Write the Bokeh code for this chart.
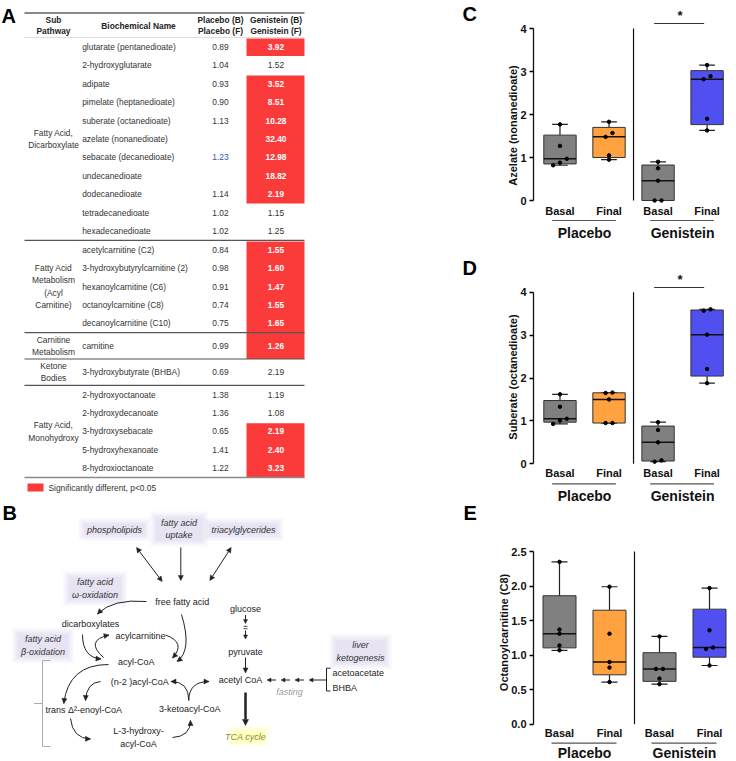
import math
from bokeh.plotting import figure
from bokeh.models import Range1d, Arrow, NormalHead, FixedTicker, NumeralTickFormatter
from bokeh.layouts import row, column
from bokeh.core.properties import value
from bokeh.embed import file_html
from bokeh.resources import INLINE

# ---------------- data: panel A table ----------------
sub_pathways = ["Fatty Acid,\nDicarboxylate", "Fatty Acid\nMetabolism\n(Acyl\nCarnitine)",
                "Carnitine\nMetabolism", "Ketone\nBodies", "Fatty Acid,\nMonohydroxy"]
section_sizes = [11, 5, 1, 1, 5]
biochemicals = ["glutarate (pentanedioate)", "2-hydroxyglutarate", "adipate", "pimelate (heptanedioate)",
                "suberate (octanedioate)", "azelate (nonanedioate)", "sebacate (decanedioate)",
                "undecanedioate", "dodecanedioate", "tetradecanedioate", "hexadecanedioate",
                "acetylcarnitine (C2)", "3-hydroxybutyrylcarnitine (2)", "hexanoylcarnitine (C6)",
                "octanoylcarnitine (C8)", "decanoylcarnitine (C10)", "carnitine",
                "3-hydroxybutyrate (BHBA)", "2-hydroxyoctanoate", "2-hydroxydecanoate",
                "3-hydroxysebacate", "5-hydroxyhexanoate", "8-hydroxioctanoate"]
placebo_ratio = [0.89, 1.04, 0.93, 0.90, 1.13, None, 1.23, None, 1.14, 1.02, 1.02,
                 0.84, 0.98, 0.91, 0.74, 0.75, 0.99, 0.69, 1.38, 1.36, 0.65, 1.41, 1.22]
genistein_ratio = [3.92, 1.52, 3.52, 8.51, 10.28, 32.40, 12.98, 18.82, 2.19, 1.15, 1.25,
                   1.55, 1.60, 1.47, 1.55, 1.65, 1.26, 2.19, 1.19, 1.08, 2.19, 2.40, 3.23]
significant = [1, 0, 1, 1, 1, 1, 1, 1, 1, 0, 0, 1, 1, 1, 1, 1, 1, 0, 0, 0, 1, 1, 1]
legend_text = "Significantly different, p<0.05"

# ---------------- data: panels C, D, E ----------------
conditions = ["Basal", "Final", "Basal", "Final"]
treatments = ["Placebo", "Genistein"]
azelate = [[1.77, 1.27, 0.97, 0.88, 0.82], [1.83, 1.57, 1.48, 1.05, 0.95],
           [0.90, 0.75, 0.46, 0.0, 0.0], [3.15, 2.89, 2.82, 1.90, 1.63]]
suberate = [[1.62, 1.33, 1.05, 1.01, 0.93], [1.66, 1.65, 1.50, 0.95, 0.95],
            [0.97, 0.79, 0.50, 0.08, 0.05], [3.60, 3.57, 3.01, 2.21, 1.88]]
octanoylcarnitine = [[2.35, 1.37, 1.31, 1.14, 1.07], [1.99, 1.31, 0.90, 0.82, 0.61],
                     [1.27, 0.80, 0.80, 0.66, 0.58], [1.97, 1.36, 1.11, 1.09, 0.85]]

SANS = "Liberation Sans"
RED = "#fb3a3a"
TFS = "8.4px"   # table font size

# ================= left figure (A + B) =================
L = figure(width=480, height=761, x_range=Range1d(0, 480), y_range=Range1d(761, 0),
           output_backend="svg", toolbar_location=None, min_border=0,
           x_axis_location=None, y_axis_location=None)
L.outline_line_color = None
L.grid.grid_line_color = None


def txt(x, y, t, size="9px", color="#222", style="normal", align="center", lh=1.2):
    L.text(x=[x], y=[y], text=[t], text_font=value(SANS), text_font_size=size,
           text_font_style=style, text_color=color, text_align=align,
           text_baseline="middle", text_line_height=lh)


# panel letters
for lab, lx, ly in [("A", 1, 15), ("B", 2, 512), ("C", 462, 13), ("D", 462, 267), ("E", 463, 512)]:
    txt(lx, ly, lab, size="20px", color="#000", style="bold", align="left")

# table geometry
TX0, TX1 = 24, 304
RX0, RX1 = 246, 304
head_bottom, row_h, min_sec = 37.0, 18.45, 26.3
row_top, row_bot, row_y, sec_bounds = [], [], [], []
y = head_bottom
for n in section_sizes:
    h = max(n * row_h, min_sec)
    for i in range(n):
        t, b = (y, y + h) if n == 1 else (y + i * row_h, y + (i + 1) * row_h)
        row_top.append(t); row_bot.append(b); row_y.append((t + b) / 2)
    sec_bounds.append((y, y + h))
    y += h

# red blocks (merge consecutive significant rows)
blocks = []
for i, s in enumerate(significant):
    if s:
        if blocks and blocks[-1][1] == i - 1:
            blocks[-1][1] = i
        else:
            blocks.append([i, i])
L.quad(left=[RX0] * len(blocks), right=[RX1] * len(blocks),
       top=[row_top[a] + 1 for a, b in blocks], bottom=[row_bot[b] for a, b in blocks],
       fill_color=RED, line_color=None)

# rules
L.segment(x0=[TX0], x1=[TX1], y0=[12.5], y1=[12.5], line_color="#8a8a8a", line_width=2)
L.segment(x0=[TX0], x1=[TX1], y0=[head_bottom], y1=[head_bottom], line_color="#d5d5d5", line_width=0.8)
for (a, b) in sec_bounds[:-1]:
    L.segment(x0=[TX0], x1=[TX1], y0=[b], y1=[b], line_color="#555555", line_width=1.2)
L.segment(x0=[TX0], x1=[TX1], y0=[sec_bounds[-1][1]], y1=[sec_bounds[-1][1]],
          line_color="#8a8a8a", line_width=1.5)

# header
for hx, ht in [(53, "Sub\nPathway"), (138, "Biochemical Name"), (220, "Placebo (B)\nPlacebo (F)"),
               (275.5, "Genistein (B)\nGenistein (F)")]:
    txt(hx, 25, ht, size=TFS, color="#222", style="bold", lh=1.05)

# sub pathway labels
for lab, (a, b) in zip(sub_pathways, sec_bounds):
    txt(53, (a + b) / 2, lab, size=TFS, color="#333", lh=1.25)

# rows
L.text(x=[81.7] * len(biochemicals), y=row_y, text=biochemicals, text_font=value(SANS),
       text_font_size=TFS, text_color="#333", text_align="left", text_baseline="middle")
p_txt = ["" if v is None else f"{v:.2f}" for v in placebo_ratio]
p_col = ["#2f55b5" if nm.startswith("sebacate") else "#333" for nm in biochemicals]
L.text(x=[220] * len(p_txt), y=row_y, text=p_txt, text_font=value(SANS), text_font_size=TFS,
       text_color=p_col, text_align="center", text_baseline="middle")
g_txt = [f"{v:.2f}" for v in genistein_ratio]
L.text(x=[275.5] * len(g_txt), y=row_y, text=g_txt, text_font=value(SANS), text_font_size=TFS,
       text_color="#ffffff", text_font_style="bold", text_align="center", text_baseline="middle",
       text_alpha=[1.0 if s else 0.0 for s in significant])
L.text(x=[275.5] * len(g_txt), y=row_y, text=g_txt, text_font=value(SANS), text_font_size=TFS,
       text_color="#333", text_font_style="normal", text_align="center", text_baseline="middle",
       text_alpha=[0.0 if s else 1.0 for s in significant])

# legend
L.quad(left=[27], right=[43], top=[483], bottom=[491], fill_color=RED, line_color=None)
txt(48, 487, legend_text, size=TFS, color="#333", align="left")

# ================= panel B diagram =================
INK = "#222"


def glow(x, y, w, h, color="#bdb4e2"):
    for k, a in [(6, 0.09), (4, 0.09), (2, 0.1), (0, 0.12)]:
        L.quad(left=[x - w / 2 - k], right=[x + w / 2 + k], top=[y - h / 2 - k], bottom=[y + h / 2 + k],
               fill_color=color, fill_alpha=a, line_color=None)


def arrow(x0, y0, x1, y1, lw=1.0, both=False, color=INK, size=5):
    kw = dict(end=NormalHead(size=size, fill_color=color, line_color=color, line_width=0.5))
    if both:
        kw["start"] = NormalHead(size=size, fill_color=color, line_color=color, line_width=0.5)
    else:
        kw["start"] = None
    L.add_layout(Arrow(x_start=x0, y_start=y0, x_end=x1, y_end=y1, line_width=lw,
                       line_color=color, **kw))


def carrow(x0, y0, cx, cy, x1, y1, color=INK):
    L.quadratic(x0=[x0], y0=[y0], x1=[x1], y1=[y1], cx=[cx], cy=[cy], line_color=color, line_width=1)
    dx, dy = x1 - cx, y1 - cy
    n = math.hypot(dx, dy)
    arrow(x1 - dx / n * 2, y1 - dy / n * 2, x1, y1, color=color)


glow_labels = [("phospholipids", 114, 529, 60, 11), ("fatty acid\nuptake", 178.5, 528.5, 46, 23),
               ("triacylglycerides", 243, 529, 68, 11), ("fatty acid\nω-oxidation", 94.5, 588, 52, 23),
               ("fatty acid\nβ-oxidation", 42.5, 645, 50, 23), ("liver\nketogenesis", 360, 651, 50, 23)]
for t, x, y, w, h in glow_labels:
    glow(x, y, w, h)
glow(248, 736, 30, 8, color="#ffff30")
for t, x, y, w, h in glow_labels:
    txt(x, y, t, size="9px", color="#333", style="italic", lh=1.25)

plain = [("free fatty acid", 181.7, 601), ("glucose", 245, 608), ("dicarboxylates", 90, 623.3),
         ("acylcarnitine", 140, 635), ("pyruvate", 245, 651), ("acyl-CoA", 135.7, 661),
         ("(n-2 )acyl-CoA", 139.3, 681), ("acetyl CoA", 240, 679.5),
         ("trans \u0394\u00b2-enoyl-CoA", 83.3, 709.3), ("3-ketoacyl-CoA", 189.3, 708.7),
         ("L-3-hydroxy-\nacyl-CoA", 138, 737)]
for t, x, y in plain:
    txt(x, y, t, size="9px", color=INK, lh=1.25)
txt(332, 672.3, "acetoacetate", size="9px", color=INK, align="left")
txt(332, 687, "BHBA", size="9px", color=INK, align="left")
txt(289, 691.5, "fasting", size="9px", color="#9a9a9a", style="italic")
txt(245, 736, "TCA cycle", size="9px", color="#8a8a5a", style="italic")

# straight arrows
arrow(136, 547, 161.7, 581, both=True)
arrow(180.3, 547, 180.3, 580)
arrow(230.7, 547, 209.3, 580, both=True)
arrow(245, 614.5, 245, 623, size=4)
L.segment(x0=[243, 243], x1=[247, 247], y0=[625.8, 628.2], y1=[625.8, 628.2], line_color=INK, line_width=0.8)
arrow(245, 630, 245, 638.5, size=4)
arrow(245, 657, 245, 672.5)
arrow(245, 692, 245, 725, lw=2.5, size=6)
for hx in [266.5, 280.5, 294.5, 308.5]:
    arrow(hx + 9, 679.5, hx, 679.5, size=4)
L.segment(x0=[317.5], x1=[326], y0=[679.5], y1=[679.5], line_color=INK, line_width=1)
L.multi_line(xs=[[330, 326, 326, 330]], ys=[[667.7, 667.7, 690.5, 690.5]], line_color=INK, line_width=1)
# beta-oxidation bracket
L.multi_line(xs=[[50, 42, 42, 50]], ys=[[660, 660, 746, 746]], line_color="#aaaaaa", line_width=1)
L.segment(x0=[33.5], x1=[42], y0=[703], y1=[703], line_color="#aaaaaa", line_width=1)

# curved arrows
carrow(146, 601, 112, 598, 97, 613.5)
carrow(181, 614, 192, 650, 176.5, 661)
carrow(82, 634, 82, 657, 100.5, 658.5)
carrow(103, 657, 84, 640, 108.5, 634.5)
carrow(165, 634.5, 186, 642, 172, 657.5)
carrow(108, 664, 68, 664, 63.3, 703)
carrow(100, 681, 86, 682, 85, 700)
carrow(188.3, 700, 188.3, 681, 170.5, 681)
carrow(188.3, 700, 188.3, 681, 208.5, 681)
carrow(70, 718, 72, 738, 90, 738.5)
carrow(172, 737, 190, 736, 190, 720)


# ================= box-plot panels =================
def prism_stats(v):
    s = sorted(v)
    return s[0], (s[0] + s[1]) / 2, s[2], (s[3] + s[4]) / 2, s[4]


def dodge(vals, tol):
    order = sorted(range(len(vals)), key=lambda i: vals[i])
    offs = [0.0] * len(vals)
    clusters, cur = [], [order[0]]
    for i in order[1:]:
        if vals[i] - vals[cur[-1]] < tol:
            cur.append(i)
        else:
            clusters.append(cur); cur = [i]
    clusters.append(cur)
    for c in clusters:
        k = len(c)
        for j, i in enumerate(c):
            offs[i] = (j - (k - 1) / 2) * 0.14
    return offs


BOX_COLORS = ["#808080", "#ffa23f", "#808080", "#5050f0"]


def box_panel(data, ylabel, ticks, fmt, fig_y0, fig_y1, px_top, px_zero, frame_left, cat1,
              sig_px=None, offs=(10, 20, 32)):
    top_val = ticks[-1]
    ppu = (px_zero - px_top) / top_val
    spacing = 50.0
    xr = Range1d(1 + (frame_left - cat1) / spacing, 1 + (736 - cat1) / spacing)
    yr = Range1d(-(fig_y1 - px_zero) / ppu, top_val + (px_top - fig_y0) / ppu)
    p = figure(width=256, height=fig_y1 - fig_y0, x_range=xr, y_range=yr, output_backend="svg",
               toolbar_location=None, x_axis_location=None, min_border_left=frame_left - 480,
               min_border_right=0, min_border_top=0, min_border_bottom=0)
    p.outline_line_color = None
    p.grid.grid_line_color = None
    ax = p.yaxis[0]
    ax.bounds = (0, top_val)
    ax.ticker = FixedTicker(ticks=ticks)
    ax.formatter = NumeralTickFormatter(format=fmt)
    ax.axis_label = ylabel
    ax.axis_label_text_font = SANS
    ax.axis_label_text_font_style = "bold"
    ax.axis_label_text_font_size = "11px"
    ax.axis_label_text_color = "#111"
    ax.axis_label_standoff = -2
    ax.major_label_text_font = SANS
    ax.major_label_text_font_style = "bold"
    ax.major_label_text_font_size = "11px"
    ax.major_label_text_color = "#111"
    ax.major_label_standoff = 3
    ax.minor_tick_line_color = None
    ax.major_tick_in = 0
    ax.major_tick_out = 4
    ax.major_tick_line_width = 1.3
    ax.axis_line_width = 1.3
    ax.axis_line_color = "#111"

    xs = [1.0, 2.0, 3.0, 4.0]
    st = [prism_stats(v) for v in data]
    lo = [s[0] for s in st]; q1 = [s[1] for s in st]; med = [s[2] for s in st]
    q3 = [s[3] for s in st]; hi = [s[4] for s in st]
    hw, cw = 0.33, 0.16
    p.segment(x0=xs, x1=xs, y0=q3, y1=hi, line_color="#222", line_width=1.2)
    p.segment(x0=xs, x1=xs, y0=q1, y1=lo, line_color="#222", line_width=1.2)
    p.segment(x0=[x - cw for x in xs], x1=[x + cw for x in xs], y0=hi, y1=hi, line_color="#222", line_width=1.2)
    p.segment(x0=[x - cw for x in xs], x1=[x + cw for x in xs], y0=lo, y1=lo, line_color="#222", line_width=1.2)
    p.quad(left=[x - hw for x in xs], right=[x + hw for x in xs], bottom=q1, top=q3,
           fill_color=BOX_COLORS, line_color="#333", line_width=1)
    p.segment(x0=[x - hw for x in xs], x1=[x + hw for x in xs], y0=med, y1=med, line_color="#111", line_width=1.5)
    px_, py_ = [], []
    for x, vals in zip(xs, data):
        off = dodge(vals, 4.0 / ppu)
        for v, o in zip(vals, off):
            px_.append(x + o); py_.append(v)
    p.scatter(px_, py_, size=3.5, color="#000")
    # separator
    p.segment(x0=[2.5], x1=[2.5], y0=[0], y1=[top_val], line_color="#111", line_width=1.2)
    # category & group labels
    d1, d2, d3 = (o / ppu for o in offs)
    p.text(x=xs, y=[-d1] * 4, text=conditions, text_font=value(SANS), text_font_style="bold",
           text_font_size="11px", text_color="#111", text_align="center", text_baseline="middle")
    p.segment(x0=[0.84, 2.84], x1=[2.14, 4.14], y0=[-d2, -d2], y1=[-d2, -d2], line_color="#555", line_width=1.2)
    p.text(x=[1.5, 3.5], y=[-d3, -d3], text=treatments, text_font=value(SANS), text_font_style="bold",
           text_font_size="14px", text_color="#111", text_align="center", text_baseline="middle")
    if sig_px is not None:
        sy = top_val + (px_top - sig_px) / ppu
        p.segment(x0=[2.92], x1=[3.94], y0=[sy], y1=[sy], line_color="#333", line_width=1.2)
        p.text(x=[3.45], y=[sy + 1 / ppu], text=["*"], text_font=value(SANS), text_font_style="bold",
               text_font_size="13px", text_color="#111", text_align="center", text_baseline="bottom")
    return p


C = box_panel(azelate, "Azelate (nonanedioate)", [0, 1, 2, 3, 4], "0", 0, 250, 28, 200, 529, 556,
              sig_px=23, offs=(10.5, 20, 32))
D = box_panel(suberate, "Suberate (octanedioate)", [0, 1, 2, 3, 4], "0", 250, 503, 291.7, 463.3, 529, 556,
              sig_px=287, offs=(9.5, 20, 32.5))
E = box_panel(octanoylcarnitine, "Octanoylcarnitine (C8)", [0, 0.5, 1.0, 1.5, 2.0, 2.5], "0.0",
              503, 761, 551, 723.7, 533, 559, offs=(8.5, 19, 28.5))

layout = row(L, column(C, D, E, spacing=0), spacing=0)
open("out.html", "w").write(file_html(layout, INLINE))
